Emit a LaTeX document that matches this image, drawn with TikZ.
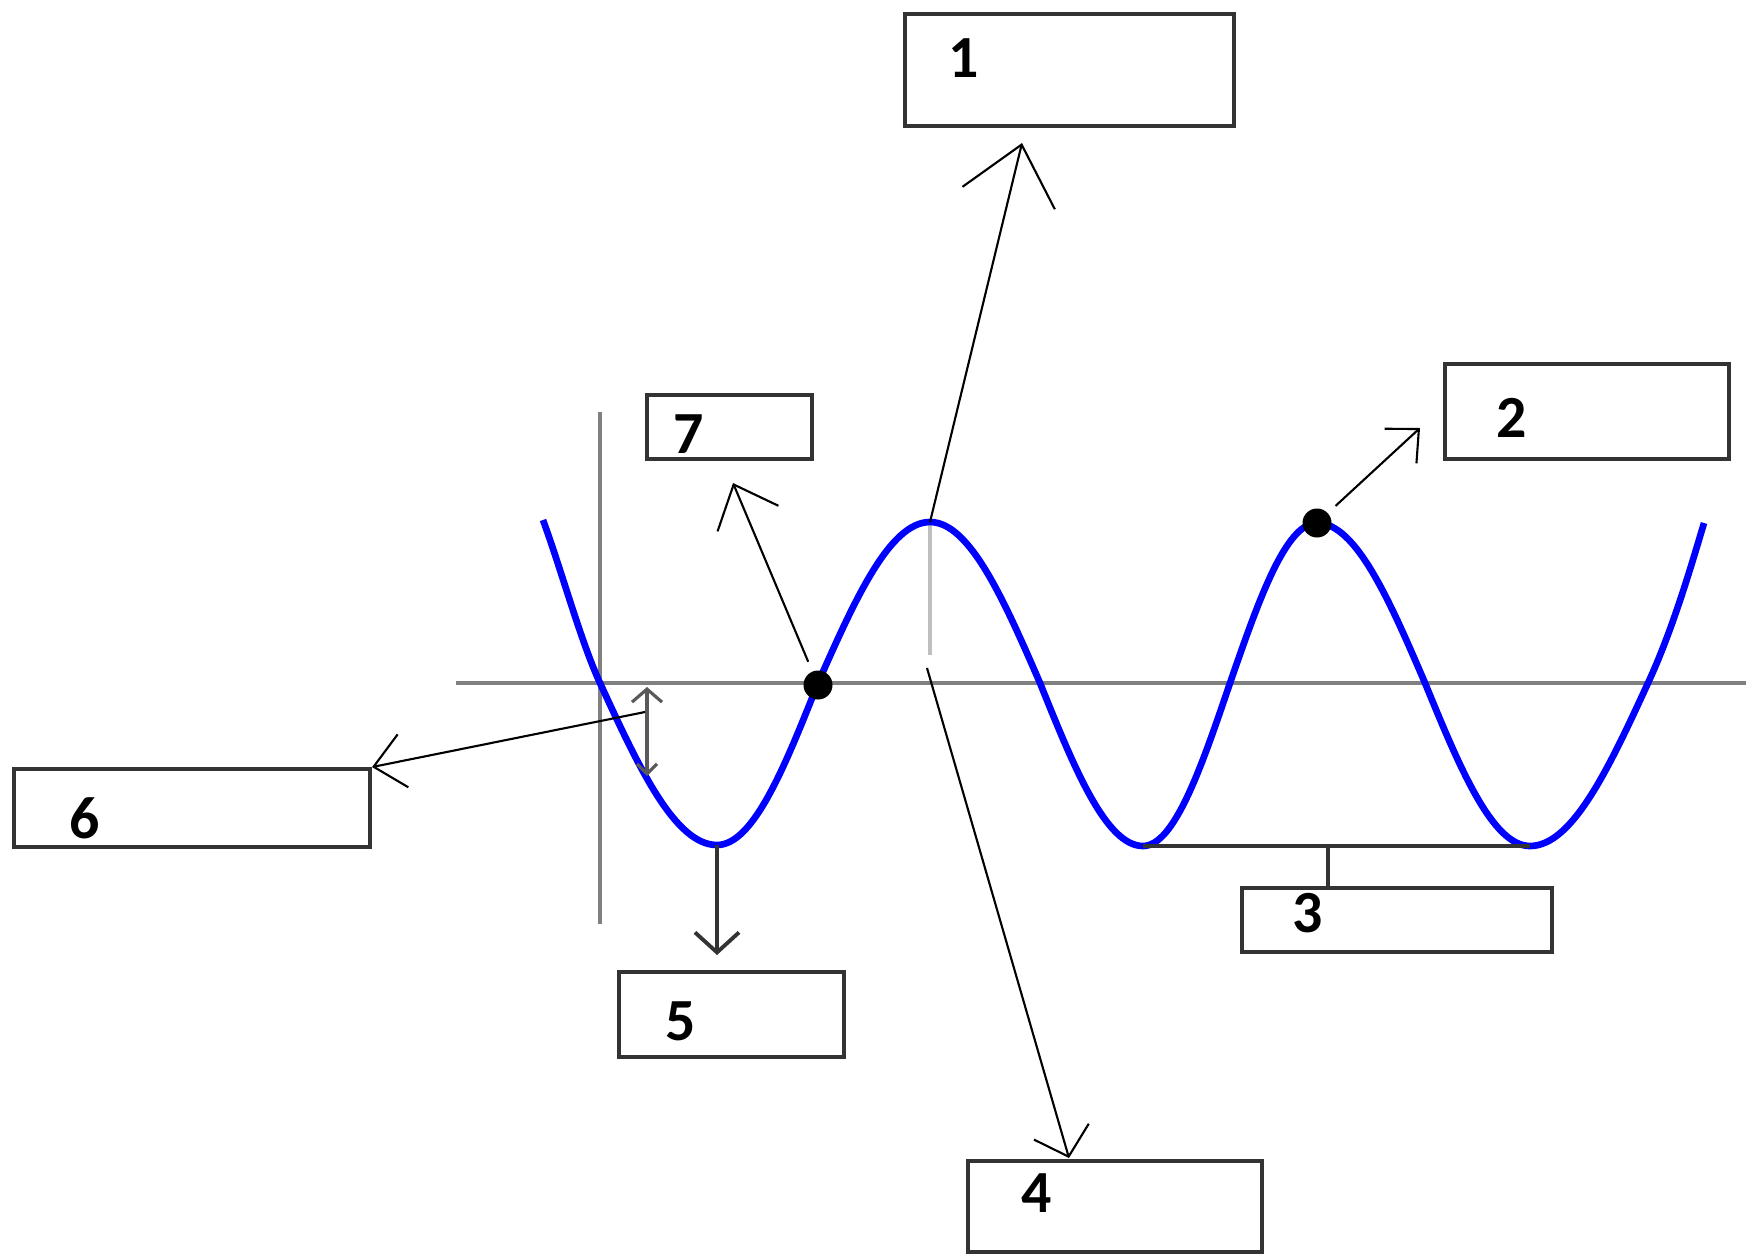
\documentclass[tikz,border=0pt]{standalone}
\usepackage{fontspec}
\setmainfont{Carlito}
\usetikzlibrary{arrows.meta}

\begin{document}
\begin{tikzpicture}[x=0.01cm, y=-0.01cm, every node/.style={font=\fontsize{17}{20}\selectfont\bfseries}]
  \tikzstyle{box}=[draw=black!80, line width=1.1pt, inner sep=0pt]
  \tikzstyle{num}=[inner sep=0pt]
  \tikzstyle{dot}=[circle, fill=black, minimum size=0.29cm, inner sep=0pt]
  \tikzstyle{axis}=[draw=black!50, line width=1.2pt]
  \tikzstyle{wave}=[draw=blue, line width=1.9pt]
  \tikzstyle{lead}=[draw=black!80, line width=1.1pt]
  \tikzstyle{pointer}=[draw=black, line width=0.6pt]
  \useasboundingbox (0,0) rectangle (1746,1254);
  % axes
  \draw[axis] (456,683) -- (1746,683);
  \draw[axis] (600,412) -- (600,924);
  % boxes and their numbers
  \node[box, minimum width=3.29cm, minimum height=1.12cm] (b1) at (1069.5,70) {};
  \node[box, minimum width=2.84cm, minimum height=0.95cm] (b2) at (1587,411.5) {};
  \node[box, minimum width=3.10cm, minimum height=0.64cm] (b3) at (1397,920) {};
  \node[box, minimum width=2.94cm, minimum height=0.91cm] (b4) at (1115,1206.5) {};
  \node[box, minimum width=2.25cm, minimum height=0.85cm] (b5) at (731.5,1014.5) {};
  \node[box, minimum width=3.56cm, minimum height=0.78cm] (b6) at (192,808) {};
  \node[box, minimum width=1.65cm, minimum height=0.64cm] (b7) at (729.5,427) {};
  \node[num] (n1) at (964,58) {1};
  \node[num] (n2) at (1512,418) {2};
  \node[num] (n3) at (1308,913) {3};
  \node[num] (n4) at (1037,1193) {4};
  \node[num] (n5) at (681,1021) {5};
  \node[num] (n6) at (85,818) {6};
  \node[num] (n7) at (689,434) {7};
  % points of the wave
  \coordinate (tr1) at (717,845);
  \coordinate (pk1) at (930,522);
  \coordinate (tr2) at (1143,846);
  \coordinate (pk2) at (1317,523);
  \coordinate (tr3) at (1530,846);
  \coordinate (g1) at (930,655);
  \draw[draw=black!25, line width=1.4pt] (pk1) -- (g1);
  \draw[wave] (543,520) .. controls (562,572) and (581,642) .. (600,683)
    sin (tr1) cos (818,683) sin (pk1) cos (1040,683) sin (tr2) cos (1230,683)
    sin (pk2) cos (1425,683) sin (tr3) cos (1648,683)
    .. controls (1672,631) and (1690,570) .. (1704,523);
  \node[dot] (d7) at (818,685) {};
  \node[dot] (d2) at (1317,523) {};
  % wavelength line
  \coordinate (m3) at (1328,847);
  \draw[lead] (tr2) -- (tr3);
  \draw[lead] (m3) -- (m3 |- b3.north);
  % amplitude marker
  \coordinate (a1) at (647,687);
  \coordinate (a2) at (647,776);
  \draw[draw=black!65, line width=0.9pt, {Straight Barb[length=1.3mm,width=3mm]}-{Straight Barb[length=1mm,width=2mm]}] (a1) -- (a2);
  % arrows to the boxes
  \coordinate (t1) at (1022,143);
  \coordinate (t2) at (1420,428);
  \coordinate (s4) at (927,668);
  \coordinate (t4) at (1069,1158);
  \coordinate (t5) at (717,955);
  \coordinate (s6) at (645,712);
  \coordinate (t7) at (733,483);
  \draw[pointer, -{Straight Barb[length=5.5mm,width=9.5mm]}] (pk1) -- (t1);
  \draw[pointer, shorten <=0.1cm, -{Straight Barb[length=2.5mm,width=4.7mm]}] (d2) -- (t2);
  \draw[pointer, -{Straight Barb[length=2.6mm,width=5.7mm]}] (s4) -- (t4);
  \draw[lead, -{Straight Barb[length=2mm,width=4.4mm]}] (tr1) -- (t5);
  \draw[pointer, -{Straight Barb[length=3mm,width=5.4mm]}] (s6) -- (b6.north east);
  \draw[pointer, shorten <=0.1cm, -{Straight Barb[length=3.7mm,width=6.6mm]}] (d7) -- (t7);
\end{tikzpicture}
\end{document}
